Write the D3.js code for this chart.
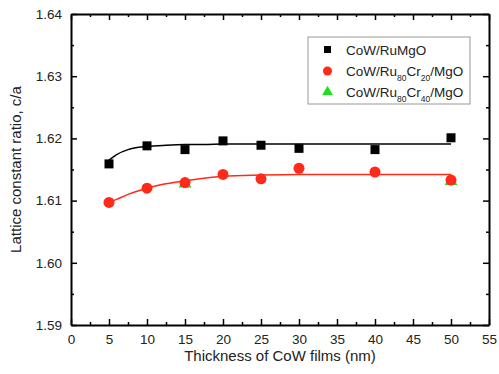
<!DOCTYPE html>
<html>
<head>
<meta charset="utf-8">
<script src="https://cdn.jsdelivr.net/npm/d3@7"></script>
<style>
  body { margin: 0; background: #fff; }
  svg { font-family: "Liberation Sans", Arial, sans-serif; }
</style>
</head>
<body>
<svg width="499" height="374"></svg>
<script>
// thickness (nm)
const thickness = [5, 10, 15, 20, 25, 30, 40, 50];
// c/a measured
const ruMgO = [1.6159, 1.6188, 1.6182, 1.6196, 1.6189, 1.6184, 1.6182, 1.6201];
const ruCr20 = [1.6097, 1.6120, 1.6129, 1.6142, 1.6135, 1.6152, 1.6146, 1.6133];
const ruCr40x = [15, 50];
const ruCr40 = [1.6127, 1.6131];

// fitted curves
const fitX = [5, 6, 7.5, 10, 12.5, 15, 17.5, 20, 25, 30, 40, 50];
const fitBlack = [1.6165, 1.6174, 1.6182, 1.6187, 1.6189, 1.6190, 1.6190, 1.6191, 1.6191, 1.6191, 1.6191, 1.6191];
const fitRed = [1.6097, 1.6102, 1.6110, 1.6120, 1.6127, 1.6132, 1.6136, 1.6139, 1.6141, 1.6142, 1.6142, 1.6142];

const xTicks = d3.range(0, 56, 5);
const yTicks = [1.59, 1.60, 1.61, 1.62, 1.63, 1.64];
const xMinor = d3.range(2.5, 55, 5);
const yMinor = [1.595, 1.605, 1.615, 1.625, 1.635];

const svg = d3.select("svg");
const plotL = 71, plotR = 489, plotT = 14, plotB = 325;

const x = d3.scaleLinear().domain([0, 55]).range([plotL, plotR]);
const y = d3.scaleLinear().domain([1.59, 1.64]).range([plotB, plotT]);

const textColor = "#222";

// axes, ticks pointing inward
const addAxis = (axisFn, scale, pos, major, minor, labels, fmt) => {
  const tr = (axisFn === d3.axisBottom || axisFn === d3.axisTop)
    ? "translate(0," + pos + ")" : "translate(" + pos + ",0)";
  const g = svg.append("g").attr("transform", tr)
    .call(axisFn(scale).tickValues(major).tickFormat(labels ? fmt : "")
      .tickSizeInner(-6).tickSizeOuter(0).tickPadding(labels ? 9 : 3));
  g.selectAll("text").attr("font-size", 13.5).attr("fill", textColor);
  svg.append("g").attr("transform", tr)
    .call(axisFn(scale).tickValues(minor).tickFormat("").tickSizeInner(-3).tickSizeOuter(0))
    .call(s => s.select(".domain").remove());
};

addAxis(d3.axisBottom, x, plotB, xTicks, xMinor, true, d3.format("d"));
addAxis(d3.axisTop, x, plotT, xTicks, xMinor, false);
addAxis(d3.axisLeft, y, plotL, yTicks, yMinor, true, d3.format(".2f"));
addAxis(d3.axisRight, y, plotR, yTicks, yMinor, false);

svg.selectAll(".domain").attr("stroke", "#000").attr("stroke-width", 2);
svg.selectAll(".tick line").attr("stroke", "#000").attr("stroke-width", 1.5);

// axis titles
svg.append("text")
  .attr("x", (plotL + plotR) / 2).attr("y", 361)
  .attr("text-anchor", "middle").attr("font-size", 15).attr("fill", textColor)
  .text("Thickness of CoW films (nm)");
svg.append("text")
  .attr("transform", "translate(21," + (plotT + plotB) / 2 + ") rotate(-90)")
  .attr("text-anchor", "middle").attr("font-size", 15).attr("fill", textColor)
  .text("Lattice constant ratio, c/a");

// fit lines
const line = (vals) => d3.line()
  .x((d, i) => x(fitX[i]))
  .y(d => y(d))
  .curve(d3.curveMonotoneX)(vals);

svg.append("path").attr("d", line(fitBlack)).attr("fill", "none").attr("stroke", "#000").attr("stroke-width", 1.5);
svg.append("path").attr("d", line(fitRed)).attr("fill", "none").attr("stroke", "#ff2a1a").attr("stroke-width", 1.5);

// markers
const sq = 9;
svg.selectAll(".sq").data(ruMgO).enter().append("rect")
  .attr("x", (d, i) => x(thickness[i]) - sq / 2)
  .attr("y", d => y(d) - sq / 2)
  .attr("width", sq).attr("height", sq).attr("fill", "#000");

const tri = d3.symbol().type(d3.symbolTriangle).size(70);
svg.selectAll(".tri").data(ruCr40).enter().append("path")
  .attr("d", tri)
  .attr("transform", (d, i) => "translate(" + x(ruCr40x[i]) + "," + y(d) + ")")
  .attr("fill", "#1ee01e");

svg.selectAll(".circ").data(ruCr20).enter().append("circle")
  .attr("cx", (d, i) => x(thickness[i]))
  .attr("cy", d => y(d))
  .attr("r", 5.5).attr("fill", "#ff2a1a");

// legend
const lg = svg.append("g");
lg.append("rect").attr("x", 308).attr("y", 37).attr("width", 162).attr("height", 67)
  .attr("fill", "#fff").attr("stroke", "#999").attr("stroke-width", 1);
lg.append("rect").attr("x", 324).attr("y", 46).attr("width", 7).attr("height", 7).attr("fill", "#000");
lg.append("circle").attr("cx", 327.5).attr("cy", 71).attr("r", 4.5).attr("fill", "#ff2a1a");
lg.append("path").attr("d", d3.symbol().type(d3.symbolTriangle).size(50))
  .attr("transform", "translate(327.5,92)").attr("fill", "#1ee01e");

const legendRows = [
  { y: 55, parts: [["CoW/Ru", false], ["MgO", false]] },
  { y: 76, parts: [["CoW/Ru", false], ["80", true], ["Cr", false], ["20", true], ["/MgO", false]] },
  { y: 97, parts: [["CoW/Ru", false], ["80", true], ["Cr", false], ["40", true], ["/MgO", false]] }
];
legendRows.forEach(r => {
  const t = lg.append("text").attr("x", 346).attr("y", r.y).attr("font-size", 13.5).attr("fill", textColor);
  let shift = 0;
  r.parts.forEach((p, i) => {
    const s = t.append("tspan").text(p[0]);
    if (i === 0) return;
    const target = p[1] ? 5 : 0;
    s.attr("dy", target - shift);
    if (p[1]) s.attr("font-size", 8.5);
    shift = target;
  });
});
</script>
</body>
</html>
